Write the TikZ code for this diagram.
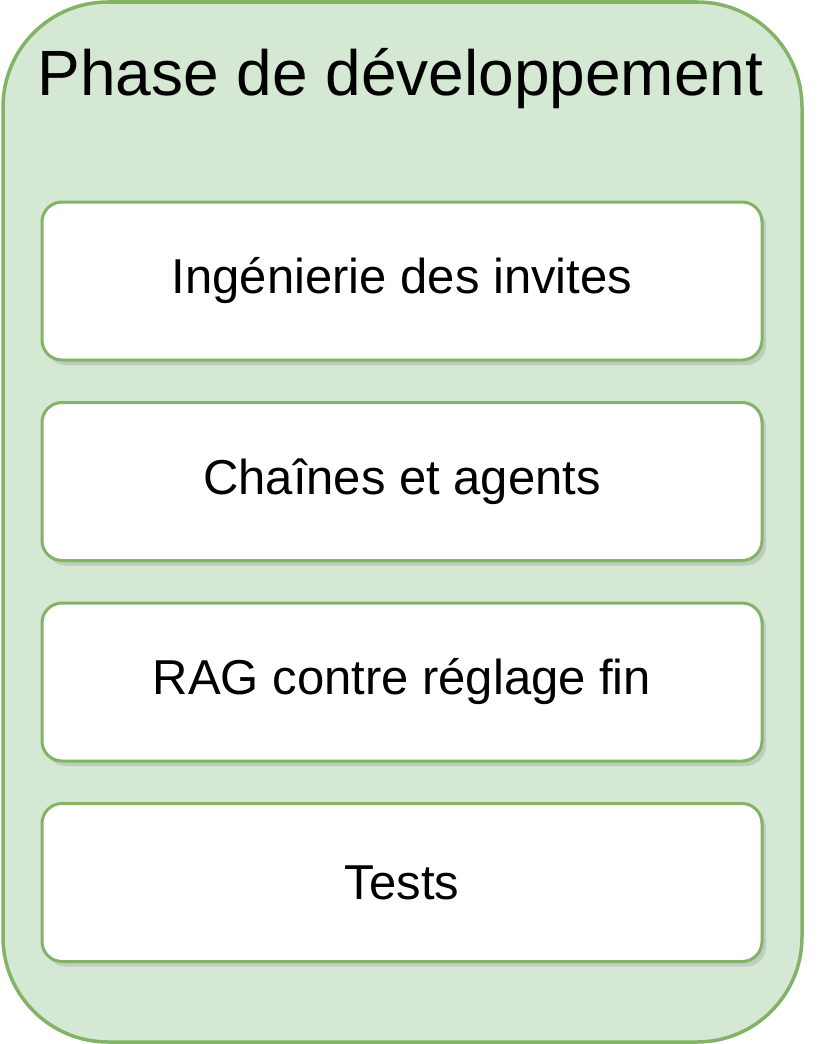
\documentclass[tikz,border=0pt]{standalone}
\usepackage{fontspec}
\setmainfont{Liberation Sans}
\usepackage{xcolor}
\usepackage{tikz}
\usetikzlibrary{shapes,positioning,calc,shadows}

\definecolor{phasefill}{HTML}{D5E8D4}
\definecolor{phaseline}{HTML}{82B366}

\tikzset{
    phasebox/.style={draw=phaseline, fill=phasefill, line width=3.5pt, rounded corners=105pt, minimum width=799pt, minimum height=1040pt},
    stepbox/.style={draw=phaseline, fill=white, line width=3pt, rounded corners=20pt, minimum width=720pt, minimum height=158pt, font=\fontsize{49}{59}\selectfont, drop shadow={opacity=0.25, shadow xshift=4pt, shadow yshift=-5pt}}
}

\begin{document}
\begin{tikzpicture}[x=1pt, y=-1pt, node distance=39.5pt]
    \useasboundingbox (0,0) rectangle (836,1044);
    \node[phasebox] (phase) at (402.5,522) {};
    \node[font=\fontsize{64}{77}\selectfont, anchor=base] (title) at (400.5,95) {Phase de développement};
    \node[stepbox] (invites) at (402,281) {Ingénierie des invites};
    \node[stepbox, below=of invites] (chaines) {Chaînes et agents};
    \node[stepbox, below=of chaines] (rag) {RAG contre réglage fin};
    \node[stepbox, below=of rag] (tests) {Tests};
\end{tikzpicture}
\end{document}
